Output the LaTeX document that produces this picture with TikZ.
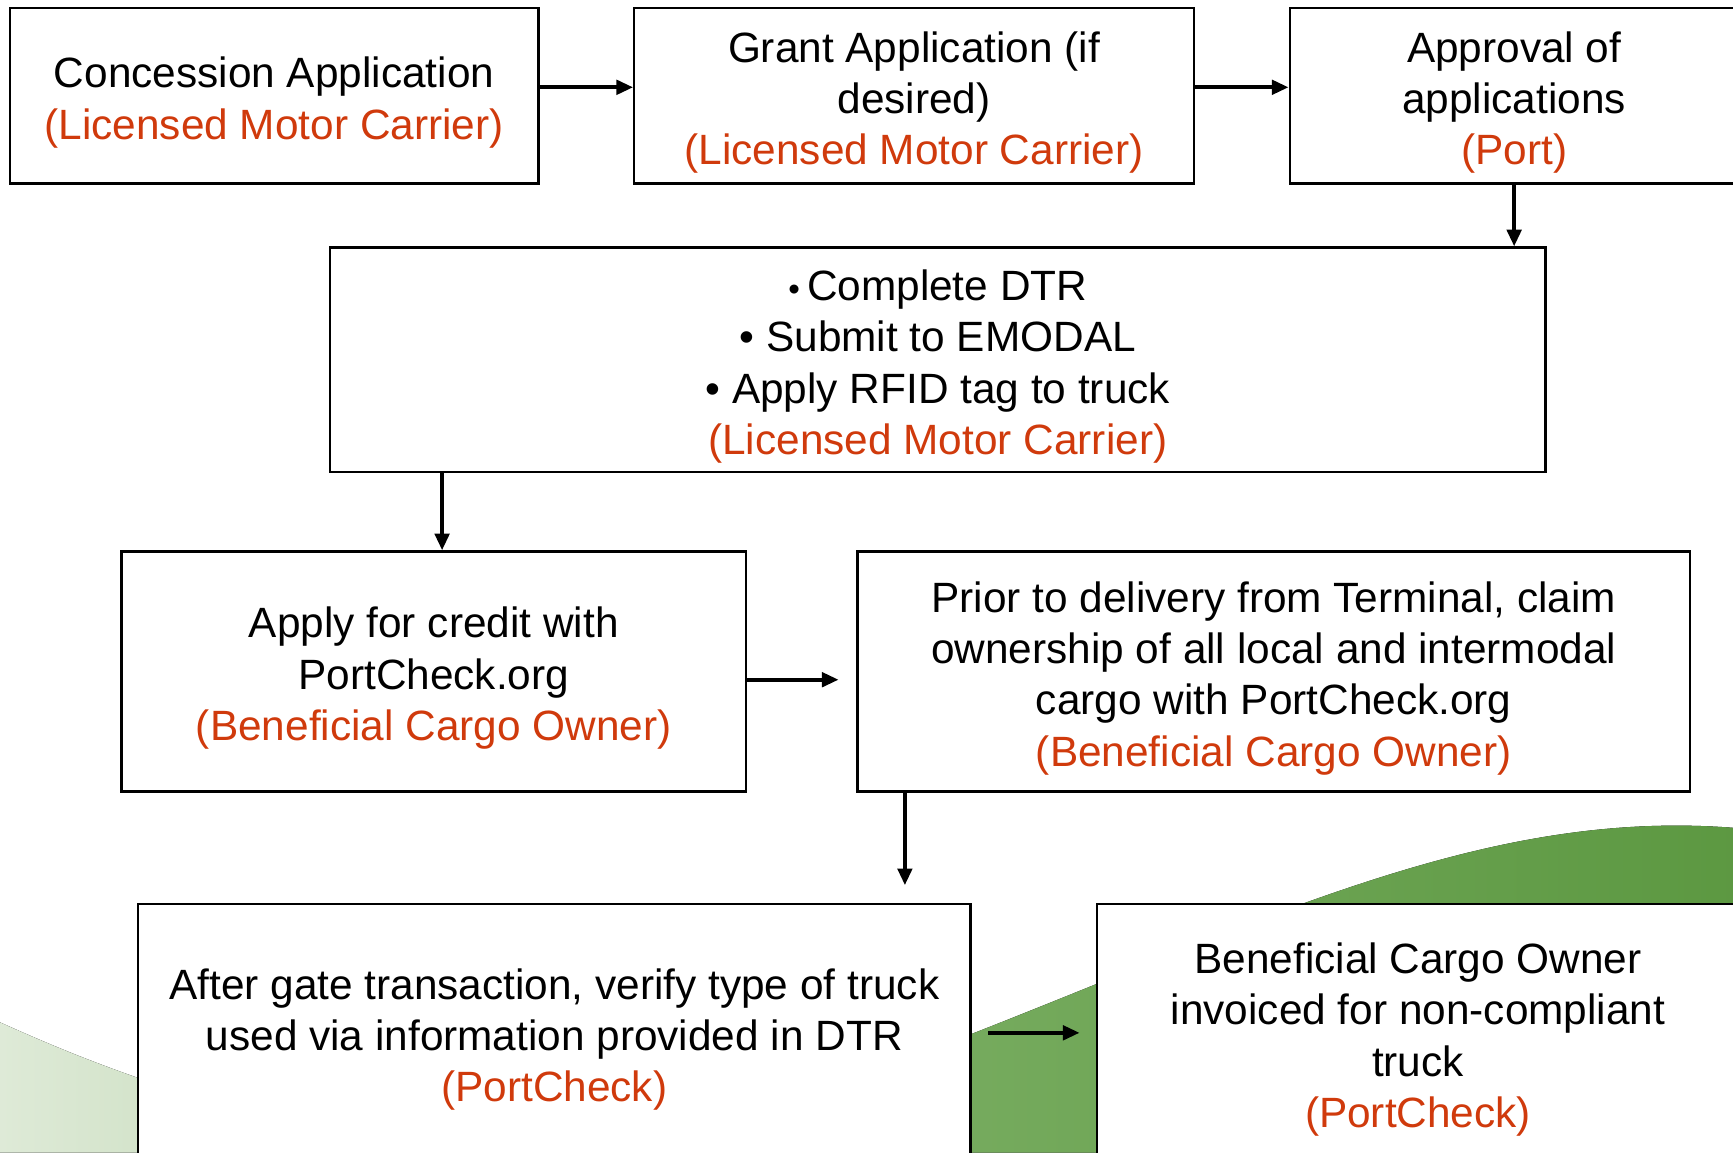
\documentclass[tikz,border=0pt]{standalone}
\usepackage{fontspec}
\setmainfont{Liberation Sans}
\usetikzlibrary{arrows.meta}
\definecolor{ownerred}{HTML}{D03A0C}
\definecolor{hilldark}{HTML}{5C9841}
\definecolor{hilllight}{HTML}{76AB5E}
\definecolor{palegreen}{HTML}{DEEAD7}
\definecolor{palegreenb}{HTML}{CEE0C4}
\tikzset{
  stepbox/.style={draw, line width=0.6pt, fill=white, align=center, inner sep=0pt,
    font=\fontsize{10.9}{13.2}\selectfont},
  flow/.style={line width=0.95pt, ->},
}
\newcommand{\who}[1]{\textcolor{ownerred}{#1}}
\newcommand{\lift}{\rule{0pt}{11.4pt}}

\begin{document}
\begin{tikzpicture}[x=0.01cm, y=-0.01cm, >={Triangle[length=0.15cm,width=0.13cm]}]
  \useasboundingbox (0,0) rectangle (1568,1043);
  %% green hills behind the boxes
  \fill[left color=palegreen, right color=palegreenb] (0,925) .. controls (60,952) and (110,972) .. (200,1000) -- (200,1043) -- (0,1043) -- cycle;
  \fill[left color=hilllight, right color=hilldark] (860,943) .. controls (1150,830) and (1350,728) .. (1580,750) -- (1580,1043) -- (860,1043) -- cycle;

  %% top row
  \node[stepbox, minimum width=4.78cm, minimum height=1.59cm] (conc) at (248,86.5)
    {\lift Concession Application\\\who{(Licensed Motor Carrier)}};
  \node[stepbox, minimum width=5.06cm, minimum height=1.59cm] (grant) at (827,86.5)
    {\lift Grant Application (if\\desired)\\\who{(Licensed Motor Carrier)}};
  \node[stepbox, minimum width=4.06cm, minimum height=1.59cm] (appr) at (1370,86.5)
    {\lift Approval of\\applications\\\who{(Port)}};
  %% carrier tasks
  \node[stepbox, minimum width=10.99cm, minimum height=2.03cm] (dtr) at (848.5,325.5)
    {\lift{\fontsize{8.5}{13.2}\selectfont •}\,Complete DTR\\• Submit to EMODAL\\• Apply RFID tag to truck\\\who{(Licensed Motor Carrier)}};
  %% cargo owner row
  \node[stepbox, minimum width=5.65cm, minimum height=2.17cm] (credit) at (392.5,607.5)
    {\lift Apply for credit with\\PortCheck.org\\\who{(Beneficial Cargo Owner)}};
  \node[stepbox, minimum width=7.53cm, minimum height=2.17cm] (prior) at (1152.5,607.5)
    {\lift Prior to delivery from Terminal, claim\\ownership of all local and intermodal\\cargo with PortCheck.org\\\who{(Beneficial Cargo Owner)}};
  %% bottom row
  \node[stepbox, minimum width=7.53cm, minimum height=2.33cm] (gate) at (501.5,934.5)
    {\lift After gate transaction, verify type of truck\\used via information provided in DTR\\\who{(PortCheck)}};
  \node[stepbox, minimum width=5.80cm, minimum height=2.33cm] (benef) at (1283,934.5)
    {\lift Beneficial Cargo Owner\\invoiced for non-compliant\\truck\\\who{(PortCheck)}};

  %% arrows
  \draw[flow] ([yshift=0.075cm]conc.east) -- ([yshift=0.075cm]grant.west);
  \draw[flow] ([yshift=0.075cm]grant.east) -- ([yshift=0.075cm]appr.west);
  \draw[flow] (appr.south) -- (appr.south |- dtr.north);
  \coordinate (drop) at ([xshift=0.075cm]credit.north);
  \draw[flow] (dtr.south -| drop) -- (drop);
  \draw[flow, shorten >=0.16cm] ([yshift=-0.075cm]credit.east) -- ([yshift=-0.075cm]prior.west);
  \coordinate (claim) at ([xshift=0.44cm]prior.south west);
  \draw[flow, shorten >=0.16cm] (claim) -- (claim |- gate.north);
  \draw[flow, shorten <=0.15cm, shorten >=0.15cm] (gate) -- (benef);
\end{tikzpicture}
\end{document}
